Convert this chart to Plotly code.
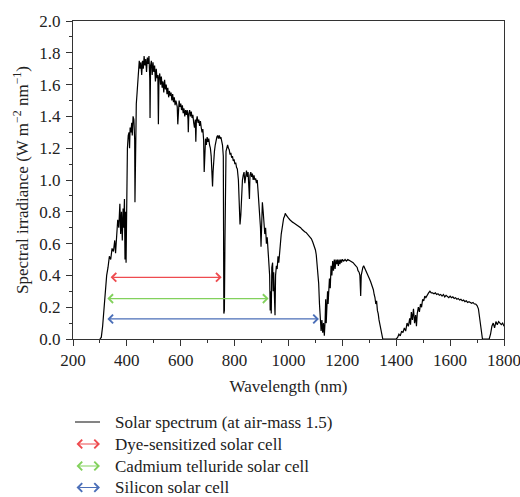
import plotly.graph_objects as go

# ---- Solar spectrum AM1.5 ----
wavelength_nm = [
    300, 305, 310, 315, 320, 325, 330, 335, 340, 345, 350, 355, 358, 362, 366, 370, 374, 377, 380, 383,
    386, 388, 391, 393, 395, 397, 400, 402, 405, 408, 410, 412, 415, 418, 420, 423, 426, 429, 430, 432,
    435, 438, 441, 444, 446, 449, 452, 455, 458, 461, 464, 467, 470, 473, 476, 479, 482, 485, 486, 488,
    491, 494, 497, 500, 503, 506, 509, 512, 515, 517, 519, 522, 525, 528, 531, 534, 537, 540, 543, 546,
    549, 552, 555, 558, 561, 564, 567, 570, 573, 576, 579, 582, 585, 587, 589, 591, 594, 597, 600, 603,
    606, 609, 612, 615, 618, 621, 624, 627, 628, 630, 633, 636, 639, 642, 645, 648, 651, 654, 656, 658,
    661, 664, 667, 670, 673, 676, 679, 682, 685, 687, 689, 692, 695, 698, 701, 704, 707, 710, 713, 716,
    718, 720, 722, 725, 728, 731, 734, 737, 740, 743, 746, 749, 752, 755, 758, 760, 762, 764, 766, 768,
    771, 774, 777, 780, 783, 786, 789, 792, 795, 798, 801, 804, 807, 810, 814, 817, 820, 823, 826, 829,
    832, 835, 838, 841, 844, 847, 850, 853, 855, 857, 860, 863, 866, 869, 872, 875, 878, 881, 884, 887,
    890, 893, 896, 898, 900, 903, 906, 909, 912, 915, 918, 921, 924, 927, 930, 932, 934, 936, 938, 941,
    943, 945, 947, 950, 952, 955, 958, 961, 964, 967, 970, 973, 976, 979, 982, 985, 988, 991, 994, 997,
    1000, 1005, 1010, 1015, 1020, 1025, 1030, 1035, 1040, 1045, 1050, 1055, 1060, 1065, 1070, 1075, 1080, 1085, 1090, 1095,
    1100, 1103, 1106, 1109, 1112, 1115, 1118, 1121, 1124, 1127, 1130, 1133, 1136, 1138, 1140, 1142, 1145, 1147, 1149, 1152,
    1155, 1158, 1161, 1164, 1167, 1170, 1173, 1176, 1179, 1182, 1185, 1188, 1191, 1194, 1197, 1200, 1205, 1210, 1215, 1220,
    1225, 1230, 1235, 1240, 1245, 1250, 1255, 1258, 1262, 1265, 1268, 1270, 1273, 1276, 1279, 1282, 1285, 1288, 1291, 1294,
    1297, 1300, 1305, 1310, 1315, 1318, 1321, 1324, 1327, 1330, 1333, 1336, 1340, 1345, 1350, 1400, 1405, 1410, 1415, 1420,
    1425, 1430, 1435, 1440, 1445, 1450, 1453, 1456, 1460, 1464, 1468, 1472, 1475, 1478, 1482, 1486, 1490, 1494, 1498, 1502,
    1506, 1510, 1515, 1520, 1525, 1530, 1535, 1540, 1545, 1550, 1555, 1560, 1565, 1570, 1575, 1580, 1585, 1590, 1595, 1600,
    1605, 1610, 1615, 1620, 1625, 1630, 1635, 1640, 1645, 1650, 1655, 1660, 1665, 1670, 1675, 1680, 1685, 1690, 1695, 1700,
    1705, 1710, 1715, 1720, 1745, 1750, 1755, 1760, 1765, 1770, 1775, 1780, 1785, 1790, 1795, 1800,
]
irradiance = [
    0.00, 0.01, 0.08, 0.20, 0.32, 0.40, 0.45, 0.52, 0.50, 0.57, 0.55, 0.62, 0.54, 0.68, 0.75, 0.70, 0.85, 0.66, 0.80, 0.62,
    0.82, 0.70, 0.88, 0.50, 0.80, 0.48, 0.95, 1.20, 1.28, 1.30, 1.20, 1.33, 1.30, 1.36, 1.28, 1.40, 1.38, 1.25, 0.86, 1.30,
    1.48, 1.55, 1.62, 1.68, 1.75, 1.70, 1.74, 1.66, 1.75, 1.70, 1.78, 1.72, 1.76, 1.68, 1.77, 1.73, 1.78, 1.64, 1.39, 1.72,
    1.75, 1.66, 1.74, 1.68, 1.72, 1.62, 1.70, 1.64, 1.66, 1.35, 1.64, 1.67, 1.60, 1.65, 1.58, 1.62, 1.55, 1.63, 1.57, 1.60,
    1.54, 1.58, 1.52, 1.56, 1.53, 1.55, 1.50, 1.54, 1.49, 1.52, 1.47, 1.50, 1.48, 1.46, 1.35, 1.47, 1.50, 1.46, 1.48, 1.44,
    1.47, 1.42, 1.45, 1.40, 1.44, 1.41, 1.44, 1.38, 1.30, 1.42, 1.44, 1.40, 1.43, 1.39, 1.41, 1.36, 1.33, 1.38, 1.24, 1.37,
    1.40, 1.36, 1.38, 1.34, 1.37, 1.33, 1.30, 1.32, 1.25, 1.05, 1.20, 1.26, 1.22, 1.27, 1.24, 1.26, 1.22, 1.20, 1.15, 1.05,
    0.96, 1.05, 1.12, 1.18, 1.22, 1.25, 1.27, 1.28, 1.26, 1.28, 1.26, 1.27, 1.25, 1.22, 1.15, 0.16, 0.18, 0.60, 1.10, 1.18,
    1.20, 1.22, 1.20, 1.19, 1.16, 1.17, 1.14, 1.15, 1.12, 1.13, 1.10, 1.11, 1.08, 1.07, 1.00, 0.90, 0.72, 0.78, 0.95, 1.00,
    1.03, 1.05, 0.98, 1.04, 1.06, 1.02, 1.05, 0.95, 0.88, 1.03, 1.05, 1.02, 1.04, 1.00, 1.03, 1.00, 1.01, 0.98, 1.00, 0.93,
    0.86, 0.80, 0.70, 0.58, 0.75, 0.86, 0.80, 0.72, 0.66, 0.70, 0.60, 0.64, 0.55, 0.50, 0.40, 0.18, 0.30, 0.16, 0.45, 0.48,
    0.30, 0.42, 0.22, 0.15, 0.40, 0.46, 0.44, 0.52, 0.48, 0.58, 0.60, 0.66, 0.70, 0.74, 0.76, 0.77, 0.79, 0.78, 0.77, 0.76,
    0.76, 0.75, 0.74, 0.735, 0.73, 0.725, 0.72, 0.71, 0.705, 0.70, 0.69, 0.68, 0.675, 0.67, 0.66, 0.655, 0.64, 0.63, 0.61, 0.59,
    0.56, 0.53, 0.47, 0.42, 0.35, 0.22, 0.10, 0.05, 0.12, 0.04, 0.10, 0.02, 0.12, 0.25, 0.10, 0.28, 0.30, 0.22, 0.35, 0.38,
    0.32, 0.46, 0.40, 0.49, 0.43, 0.50, 0.44, 0.50, 0.47, 0.50, 0.46, 0.50, 0.47, 0.50, 0.48, 0.50, 0.49, 0.50, 0.49, 0.50,
    0.495, 0.49, 0.49, 0.48, 0.47, 0.46, 0.45, 0.43, 0.42, 0.40, 0.27, 0.40, 0.44, 0.45, 0.46, 0.45, 0.44, 0.43, 0.42, 0.41,
    0.39, 0.38, 0.36, 0.34, 0.31, 0.28, 0.26, 0.22, 0.24, 0.18, 0.16, 0.12, 0.08, 0.03, 0.00, 0.00, 0.01, 0.03, 0.02, 0.05,
    0.04, 0.07, 0.05, 0.10, 0.08, 0.13, 0.09, 0.17, 0.12, 0.19, 0.10, 0.15, 0.08, 0.16, 0.20, 0.17, 0.22, 0.20, 0.25, 0.24,
    0.27, 0.26, 0.28, 0.29, 0.30, 0.29, 0.29, 0.285, 0.29, 0.28, 0.285, 0.275, 0.28, 0.27, 0.28, 0.265, 0.275, 0.27, 0.26, 0.27,
    0.26, 0.265, 0.255, 0.26, 0.25, 0.255, 0.245, 0.25, 0.24, 0.245, 0.235, 0.24, 0.23, 0.235, 0.23, 0.225, 0.23, 0.22, 0.22, 0.21,
    0.19, 0.12, 0.05, 0.00, 0.00, 0.03, 0.08, 0.10, 0.07, 0.11, 0.09, 0.11, 0.10, 0.09, 0.10, 0.08,
]

# ---- Solar cell absorption ranges ----
cell_names = ["Dye-sensitized solar cell", "Cadmium telluride solar cell", "Silicon solar cell"]
cell_start_nm = [334, 322, 322]
cell_end_nm = [752, 926, 1113]
cell_level = [0.388, 0.254, 0.126]
cell_colors = ["#ee4b4f", "#82d15c", "#4b6fb8"]

spectrum_label = "Solar spectrum (at air-mass 1.5)"

FONT = "Liberation Serif, Times New Roman, serif"
FS = 17
W, H = 520, 497
ML, MR, MT, MB = 73, 16, 21, 158
PW = W - ML - MR
PH = H - MT - MB

fig = go.Figure()
fig.add_trace(go.Scatter(x=wavelength_nm, y=irradiance, mode="lines",
                         line=dict(color="black", width=1.2), showlegend=False,
                         name=spectrum_label))

annotations = []
for s, e, lv, c in zip(cell_start_nm, cell_end_nm, cell_level, cell_colors):
    annotations.append(dict(x=e, y=lv, ax=s, ay=lv, xref="x", yref="y", axref="x", ayref="y",
                            text="", showarrow=True, arrowhead=4, arrowside="end+start",
                            arrowsize=1.4, arrowwidth=1.2, arrowcolor=c,
                            standoff=0, startstandoff=0))

# ---- custom legend below the plot ----
def px_to_paper_x(px):
    return (px - ML) / PW

def py_to_paper_y(py):
    return (MT + PH - py) / PH

legend_rows_py = [422, 444, 466, 487.5]
sample_x0, sample_x1, text_x = 75, 100, 113

shapes = [dict(type="line", xref="paper", yref="paper",
               x0=px_to_paper_x(sample_x0), x1=px_to_paper_x(sample_x1),
               y0=py_to_paper_y(legend_rows_py[0]), y1=py_to_paper_y(legend_rows_py[0]),
               line=dict(color="#333333", width=1.2))]

labels = [spectrum_label] + cell_names
for i, lab in enumerate(labels):
    annotations.append(dict(x=px_to_paper_x(text_x), y=py_to_paper_y(legend_rows_py[i]),
                            xref="paper", yref="paper", text=lab, showarrow=False,
                            xanchor="left", yanchor="middle",
                            font=dict(family=FONT, size=FS, color="#222222")))
for i, c in enumerate(cell_colors):
    yy = py_to_paper_y(legend_rows_py[i + 1])
    annotations.append(dict(x=px_to_paper_x(sample_x1), y=yy, xref="paper", yref="paper",
                            ax=-(sample_x1 - sample_x0), ay=0, axref="pixel", ayref="pixel",
                            text="", showarrow=True, arrowhead=4, arrowside="end+start",
                            arrowsize=1.4, arrowwidth=1.2, arrowcolor=c,
                            standoff=0, startstandoff=0))

fig.update_layout(
    width=W, height=H,
    margin=dict(l=ML, r=MR, t=MT, b=MB, pad=0, autoexpand=False),
    paper_bgcolor="white", plot_bgcolor="white",
    font=dict(family=FONT, size=FS, color="#222222"),
    annotations=annotations, shapes=shapes,
    xaxis=dict(range=[200, 1800], dtick=200, tick0=200, ticks="outside", ticklen=6,
               tickwidth=1, tickcolor="#333", showline=True, linecolor="#333", linewidth=1,
               mirror=True, showgrid=False, zeroline=False, ticklabeloverflow="allow",
               automargin=False,
               minor=dict(dtick=100, ticks="outside", ticklen=3, tickcolor="#333"),
               title=dict(text="Wavelength (nm)", font=dict(family=FONT, size=FS), standoff=10)),
    yaxis=dict(range=[0, 2.0], dtick=0.2, tick0=0, tickformat=".1f", ticks="outside", ticklen=6,
               tickwidth=1, tickcolor="#333", showline=True, linecolor="#333", linewidth=1,
               mirror=True, showgrid=False, zeroline=False, ticklabelstandoff=2,
               automargin=False,
               minor=dict(dtick=0.1, ticks="outside", ticklen=3, tickcolor="#333"),
               title=dict(text="Spectral irradiance (W m<sup>−2</sup> nm<sup>−1</sup>)",
                          font=dict(family=FONT, size=FS), standoff=6)),
)

fig.write_html("out.html", config={"displayModeBar": False},
               post_script="document.body.style.margin='0';document.body.style.overflow='hidden';")
